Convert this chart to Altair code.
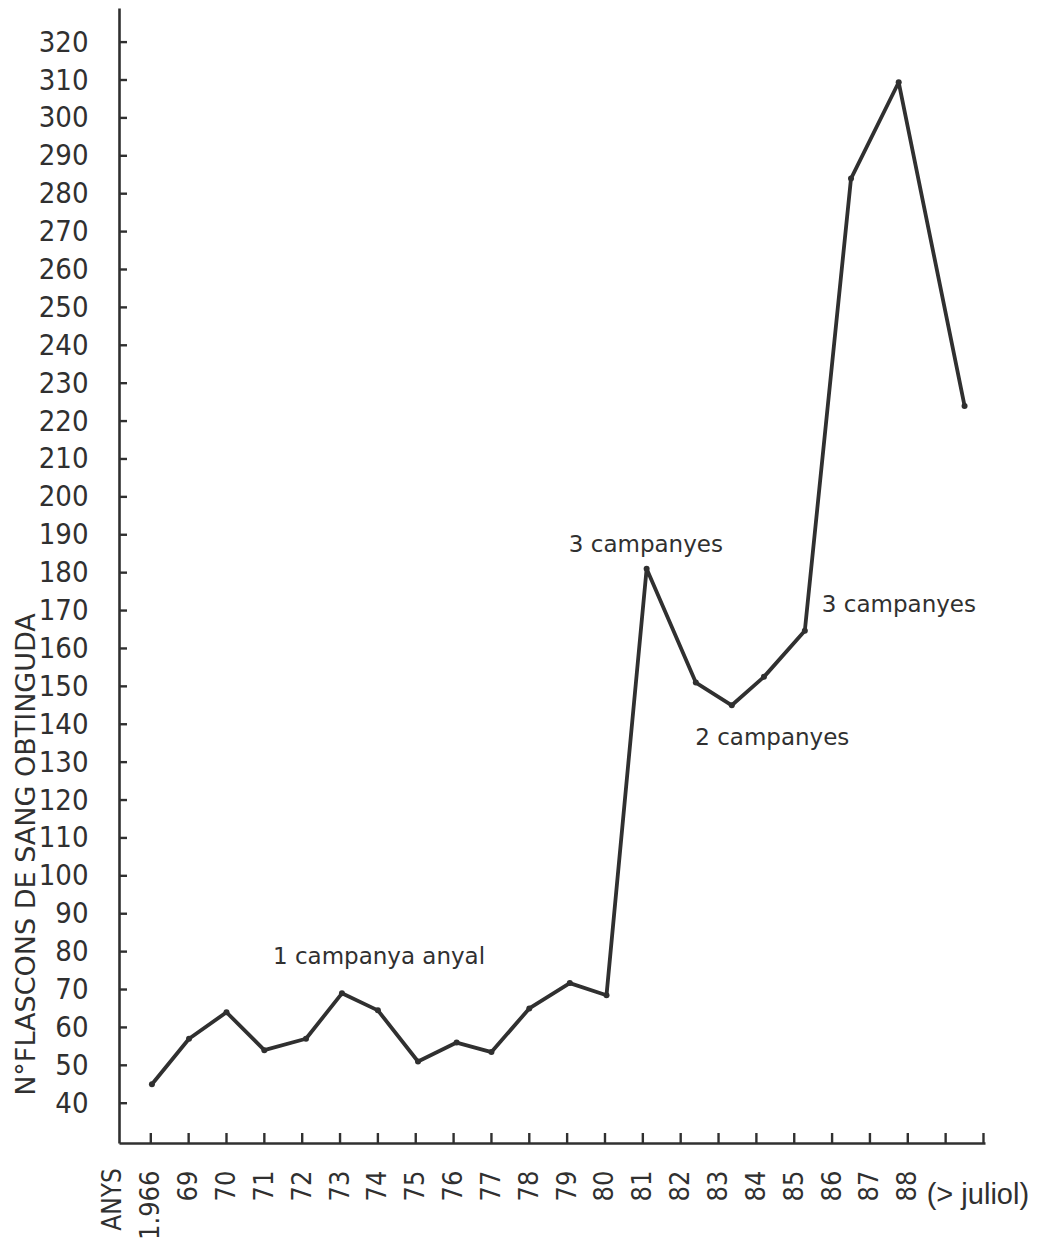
import altair as alt
import pandas as pd

# ---- data ----
year_labels = ["1.966", "69", "70", "71", "72", "73", "74", "75", "76", "77",
               "78", "79", "80", "81", "82", "83", "84", "85", "86", "87", "88"]
# horizontal position of each plotted point, in axis slots (hand-drawn drift)
point_slots = [0.03, 1.01, 2.0, 3.0, 4.1, 5.05, 6.0, 7.06, 8.08, 9.0,
               10.0, 11.07, 12.04, 13.1, 14.4, 15.35, 16.2, 17.28, 18.5, 19.76, 21.5]
flascons = [45, 57, 64, 54, 57, 69, 64.5, 51, 56, 53.5,
            65, 71.7, 68.5, 181, 151, 145, 152.5, 164.7, 284, 309.4, 224]

x_tick_slots = list(range(0, 23))
y_tick_values = list(range(40, 330, 10))

center_note_text = ["1 campanya  anyal", "3 campanyes", "2 campanyes"]
center_note_x = [6.03, 13.08, 16.42]
center_note_y = [78.5, 187.2, 136.3]
left_note_text = ["3 campanyes"]
left_note_x = [17.73]
left_note_y = [171.4]

Y_MIN, Y_MAX = 29.5, 329.0
X_MIN, X_MAX = -0.84, 22.04
W, H = 866, 1135
INK = "#303030"
NARROW = "Liberation Sans Narrow, DejaVu Sans Condensed, sans-serif"

data = pd.DataFrame({"slot": point_slots, "value": flascons})

label_array = "[" + ",".join("'%s'" % l for l in year_labels) + "]"

xscale = alt.Scale(domain=[X_MIN, X_MAX], nice=False, zero=False)
yscale = alt.Scale(domain=[Y_MIN, Y_MAX], nice=False, zero=False)

base = alt.Chart(data)

line = base.mark_line(color=INK, strokeWidth=3.8, strokeJoin="round", strokeCap="round",
                      clip=False).encode(
    x=alt.X("slot:Q", scale=xscale,
            axis=alt.Axis(values=list(range(len(year_labels))),
                          labelExpr=label_array + "[datum.value]",
                          labelAngle=270, labelFont=NARROW, labelFontSize=27,
                          labelColor=INK, labelPadding=27, ticks=False,
                          domainColor=INK, domainWidth=2.6, grid=False, title=None,
                          labelOverlap=False, labelFlush=False)),
    y=alt.Y("value:Q", scale=yscale,
            axis=alt.Axis(values=y_tick_values, labelFont=NARROW, labelFontSize=29,
                          labelColor=INK, labelPadding=31, ticks=False,
                          domainColor=INK, domainWidth=2.6, grid=False,
                          labelOverlap=False, labelFlush=False,
                          title="N°FLASCONS  DE  SANG  OBTINGUDA",
                          titleFont="DejaVu Sans", titleFontSize=27,
                          titleFontWeight="normal", titleColor=INK,
                          titleAngle=270, titleX=-93, titleY=846,
                          titleAlign="center", titleBaseline="middle")),
)

pts = base.mark_circle(color=INK, size=36, opacity=1, clip=False).encode(
    x=alt.X("slot:Q", scale=xscale), y=alt.Y("value:Q", scale=yscale))

xticks = alt.Chart(pd.DataFrame({"slot": x_tick_slots})).mark_rule(
    color=INK, strokeWidth=2.4, clip=False).encode(
    x=alt.X("slot:Q", scale=xscale), y=alt.value(H), y2=alt.value(H - 10))

yticks = alt.Chart(pd.DataFrame({"value": y_tick_values})).mark_rule(
    color=INK, strokeWidth=2.4, clip=False).encode(
    y=alt.Y("value:Q", scale=yscale), x=alt.value(0), x2=alt.value(8))

notes_c = alt.Chart(pd.DataFrame({"text": center_note_text, "slot": center_note_x,
                                  "value": center_note_y})).mark_text(
    font="DejaVu Sans", fontSize=23, color=INK, baseline="middle", align="center",
    clip=False).encode(
    x=alt.X("slot:Q", scale=xscale), y=alt.Y("value:Q", scale=yscale), text="text:N")

notes_l = alt.Chart(pd.DataFrame({"text": left_note_text, "slot": left_note_x,
                                  "value": left_note_y})).mark_text(
    font="DejaVu Sans", fontSize=23, color=INK, baseline="middle", align="left",
    clip=False).encode(
    x=alt.X("slot:Q", scale=xscale), y=alt.Y("value:Q", scale=yscale), text="text:N")

juliol = alt.Chart(pd.DataFrame({"text": ["(> juliol)"], "slot": [20.5], "value": [15.8]})).mark_text(
    font="Liberation Sans", fontSize=29, color=INK, align="left", baseline="middle",
    clip=False).encode(
    x=alt.X("slot:Q", scale=xscale), y=alt.Y("value:Q", scale=yscale), text="text:N")

anys = alt.Chart(pd.DataFrame({"text": ["ANYS"], "slot": [-1.0], "value": [22.9]})).mark_text(
    font=NARROW, fontSize=26, color=INK, align="right", baseline="middle", angle=270,
    clip=False).encode(
    x=alt.X("slot:Q", scale=xscale), y=alt.Y("value:Q", scale=yscale), text="text:N")

chart = alt.layer(line, pts, xticks, yticks, notes_c, notes_l, juliol, anys).properties(
    width=W, height=H,
    autosize=alt.AutoSizeParams(type="none"),
    padding={"left": 111, "top": 0, "right": 52, "bottom": 97},
).configure_view(stroke=None)

chart.save("out.html", embed_options={"renderer": "svg", "actions": False})
